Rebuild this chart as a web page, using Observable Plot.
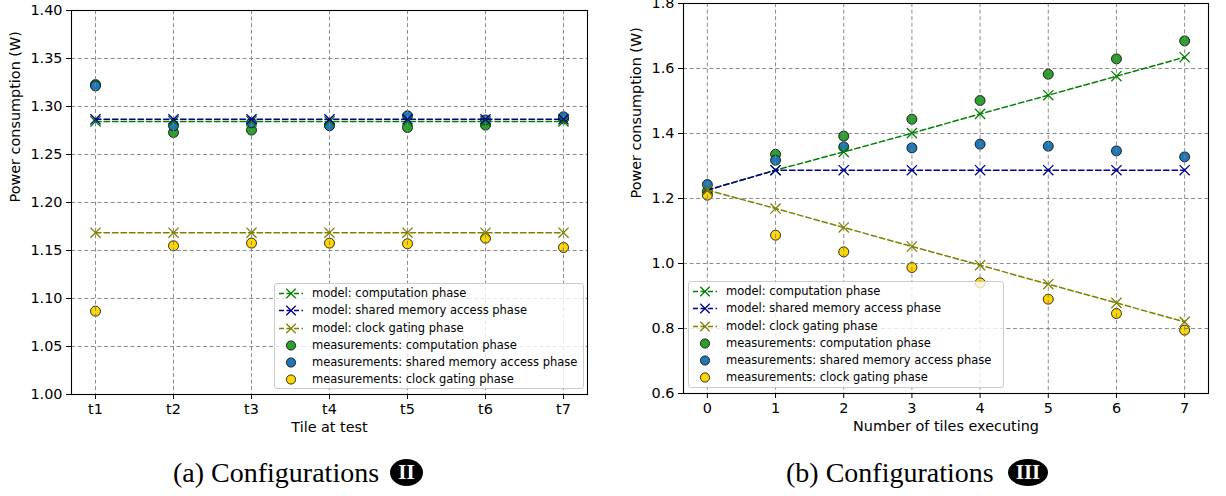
<!DOCTYPE html>
<html>
<head>
<meta charset="utf-8">
<script src="https://cdn.jsdelivr.net/npm/d3@7"></script>
<script src="https://cdn.jsdelivr.net/npm/@observablehq/plot@0.6"></script>
<style>
  html, body { margin: 0; padding: 0; background: white; }
  #root { position: relative; width: 1226px; height: 496px; overflow: hidden; background: white; }
  .panel { position: absolute; top: 0; }
  .legend { position: absolute; border: 1px solid #cccccc; border-radius: 3px; background: rgba(255,255,255,0.8);
            font-family: "DejaVu Sans", sans-serif; font-size: 11.5px; color: black; box-sizing: border-box; }
  .legend .row { position: absolute; left: 0; height: 17px; width: 100%; }
  .legend .row svg { position: absolute; left: 4px; top: 0; }
  .legend .row span { position: absolute; left: 37px; top: 0; line-height: 17px; white-space: nowrap; }
  .caption { position: absolute; font-family: "Liberation Serif", serif; font-size: 28px; line-height: 28px; color: black; white-space: nowrap; }
  .badge { position: absolute; background: black; color: white; border-radius: 50%; font-family: "Liberation Serif", serif;
           font-weight: bold; font-size: 21px; text-align: center; }
</style>
</head>
<body>
<div id="root"></div>
<script>
// ---------------- data: panel (a) Configurations II ----------------
const tiles = ["t1", "t2", "t3", "t4", "t5", "t6", "t7"];
const yTicksA = [1.00, 1.05, 1.10, 1.15, 1.20, 1.25, 1.30, 1.35, 1.40];
const modelCompA = [1.2845, 1.2845, 1.2845, 1.2845, 1.2845, 1.2845, 1.2845];
const modelShmA  = [1.2867, 1.2867, 1.2867, 1.2867, 1.2867, 1.2867, 1.2867];
const modelClkA  = [1.1685, 1.1685, 1.1685, 1.1685, 1.1685, 1.1685, 1.1685];
const measCompA  = [1.3228, 1.2729, 1.2754, 1.2805, 1.2781, 1.2806, 1.2870];
const measShmA   = [1.3214, 1.2799, 1.2830, 1.2800, 1.2903, 1.2860, 1.2893];
const measClkA   = [1.0868, 1.1549, 1.1577, 1.1577, 1.1570, 1.1628, 1.1531];

// ---------------- data: panel (b) Configurations III ----------------
const nTiles = [0, 1, 2, 3, 4, 5, 6, 7];
const yTicksB = [0.6, 0.8, 1.0, 1.2, 1.4, 1.6, 1.8];
const modelCompB = [1.2260, 1.2871, 1.3434, 1.4010, 1.4603, 1.5178, 1.5763, 1.6348];
const modelShmB  = [1.2260, 1.2871, 1.2871, 1.2871, 1.2871, 1.2871, 1.2871, 1.2871];
const modelClkB  = [1.2260, 1.1692, 1.1108, 1.0523, 0.9948, 0.9363, 0.8788, 0.8203];
const measCompB  = [1.2220, 1.3360, 1.3920, 1.4440, 1.5015, 1.5825, 1.6296, 1.6849];
const measShmB   = [1.2428, 1.3178, 1.3588, 1.3557, 1.3671, 1.3610, 1.3465, 1.3280];
const measClkB   = [1.2102, 1.0871, 1.0358, 0.9877, 0.9405, 0.8902, 0.8462, 0.7949];

// ---------------- series labels / colours ----------------
const seriesLabels = [
  "model: computation phase",
  "model: shared memory access phase",
  "model: clock gating phase",
  "measurements: computation phase",
  "measurements: shared memory access phase",
  "measurements: clock gating phase"
];
const modelColors = ["#008000", "#00008b", "#808000"];
const measColors = ["#2ca02c", "#1f77b4", "#ffd700"];

const gridStyle = {stroke: "#808080", strokeOpacity: 1, strokeWidth: 0.9, strokeDasharray: "4,2.6"};

function toRows(xs, ys) { return xs.map((x, i) => ({x, y: ys[i]})); }

function panelMarks(xs, models, meas, yTicks, fmt, xLabel, yLabelDx) {
  const marks = [];
  meas.forEach((vals, k) => {
    marks.push(Plot.dot(toRows(xs, vals), {x: "x", y: "y", r: 5, fill: measColors[k], stroke: "black", strokeWidth: 0.8}));
  });
  marks.push(Plot.gridX(xs, {x: d => d, ...gridStyle}));
  marks.push(Plot.gridY(yTicks, {y: d => d, ...gridStyle}));
  models.forEach((vals, k) => {
    const rows = toRows(xs, vals);
    marks.push(Plot.line(rows, {x: "x", y: "y", stroke: modelColors[k], strokeWidth: 1.5, strokeDasharray: "5.5,3"}));
    marks.push(Plot.dot(rows, {x: "x", y: "y", symbol: "times", r: 4.7, stroke: modelColors[k], strokeWidth: 1.3}));
  });
  marks.push(Plot.frame({stroke: "black", strokeWidth: 1.1}));
  marks.push(Plot.axisX(xs, {tickSize: 5, tickPadding: 4, label: null, strokeWidth: 1}));
  marks.push(Plot.axisY(yTicks, {tickSize: 5, tickPadding: 4, tickFormat: fmt, label: null, strokeWidth: 1}));
  marks.push(Plot.text([xLabel], {frameAnchor: "bottom", dy: 37, text: d => d, fontSize: 14.4}));
  marks.push(Plot.text(["Power consumption (W)"], {frameAnchor: "left", dx: yLabelDx, rotate: -90, text: d => d, fontSize: 14.4}));
  return marks;
}

const baseStyle = {fontFamily: "DejaVu Sans", fontSize: "14.4px", color: "black", background: "transparent", overflow: "visible"};

const plotA = Plot.plot({
  width: 600, height: 440,
  marginLeft: 71, marginRight: 13, marginTop: 10, marginBottom: 46,
  style: baseStyle,
  x: {type: "point", domain: tiles, padding: 0.3},
  y: {domain: [1.0, 1.4]},
  marks: panelMarks(tiles, [modelCompA, modelShmA, modelClkA], [measCompA, measShmA, measClkA],
                    yTicksA, d => d.toFixed(2), "Tile at test", -56)
});

const plotB = Plot.plot({
  width: 614, height: 440,
  marginLeft: 71, marginRight: 18, marginTop: 3, marginBottom: 47,
  style: baseStyle,
  x: {type: "linear", domain: [-0.35, 7.35]},
  y: {domain: [0.6, 1.8]},
  marks: panelMarks(nTiles, [modelCompB, modelShmB, modelClkB], [measCompB, measShmB, measClkB],
                    yTicksB, d => d.toFixed(1), "Number of tiles executing", -47)
});

const root = document.getElementById("root");
plotA.classList.add("panel"); plotA.style.left = "0px";
plotB.classList.add("panel"); plotB.style.left = "612px";
root.appendChild(plotA);
root.appendChild(plotB);

// ---------------- legends ----------------
function makeLegend(left, top, width, height) {
  const box = document.createElement("div");
  box.className = "legend";
  Object.assign(box.style, {left: left + "px", top: top + "px", width: width + "px", height: height + "px"});
  seriesLabels.forEach((label, i) => {
    const row = document.createElement("div");
    row.className = "row";
    row.style.top = (1.2 + i * 17.15) + "px";
    const ns = "http://www.w3.org/2000/svg";
    const svg = document.createElementNS(ns, "svg");
    svg.setAttribute("width", "24"); svg.setAttribute("height", "17");
    if (i < 3) {
      const c = modelColors[i];
      const line = document.createElementNS(ns, "line");
      line.setAttribute("x1", "0"); line.setAttribute("x2", "24");
      line.setAttribute("y1", "8.5"); line.setAttribute("y2", "8.5");
      line.setAttribute("stroke", c); line.setAttribute("stroke-width", "1.5");
      line.setAttribute("stroke-dasharray", "5,2.5");
      svg.appendChild(line);
      const p = document.createElementNS(ns, "path");
      p.setAttribute("d", "M7.3,3.8L16.7,13.2M7.3,13.2L16.7,3.8");
      p.setAttribute("stroke", c); p.setAttribute("stroke-width", "1.3"); p.setAttribute("fill", "none");
      svg.appendChild(p);
    } else {
      const circ = document.createElementNS(ns, "circle");
      circ.setAttribute("cx", "12"); circ.setAttribute("cy", "8.5"); circ.setAttribute("r", "4.6");
      circ.setAttribute("fill", measColors[i - 3]); circ.setAttribute("stroke", "black"); circ.setAttribute("stroke-width", "0.8");
      svg.appendChild(circ);
    }
    row.appendChild(svg);
    const span = document.createElement("span");
    span.textContent = label;
    row.appendChild(span);
    box.appendChild(row);
  });
  root.appendChild(box);
}
makeLegend(274, 283, 310, 106);
makeLegend(688, 281, 316, 107);

// ---------------- captions ----------------
function caption(left, text, badgeLeft, badgeWidth, numeral) {
  const c = document.createElement("div");
  c.className = "caption";
  c.style.left = left + "px"; c.style.top = "459px";
  c.textContent = text;
  root.appendChild(c);
  const b = document.createElement("div");
  b.className = "badge";
  Object.assign(b.style, {left: badgeLeft + "px", top: "459px", width: badgeWidth + "px", height: "27px", lineHeight: "27px"});
  b.textContent = numeral;
  root.appendChild(b);
}
caption(173, "(a) Configurations", 390, 33, "II");
caption(786, "(b) Configurations", 1008, 40, "III");
</script>
</body>
</html>
